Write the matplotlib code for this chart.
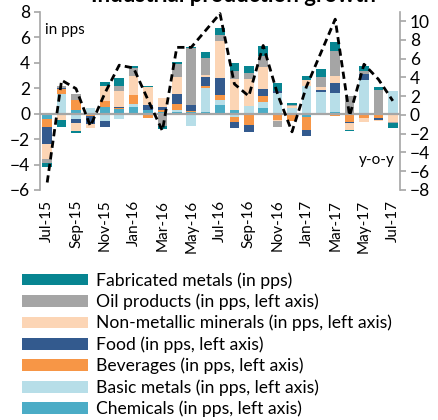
import numpy as np
import matplotlib
matplotlib.use('Agg')
import matplotlib.pyplot as plt
from matplotlib.patches import Patch

plt.rcParams['font.family'] = ['Lato', 'DejaVu Sans']

# --- data ---
months = ['Jul-15', 'Aug-15', 'Sep-15', 'Oct-15', 'Nov-15', 'Dec-15', 'Jan-16', 'Feb-16', 'Mar-16',
          'Apr-16', 'May-16', 'Jun-16', 'Jul-16', 'Aug-16', 'Sep-16', 'Oct-16', 'Nov-16', 'Dec-16',
          'Jan-17', 'Feb-17', 'Mar-17', 'Apr-17', 'May-17', 'Jun-17', 'Jul-17']

chemicals = [-0.4, 0, 0.26, -0.15, 0.5, 0.35, 0.52, 0.25, 0.13, 0.12, 0.1, 0.12, 0.7,
             0.25, 0, 0.4, 0, 0, -0.3, 0, 0.15, 0, 0, 0, 0]
basic_metals = [0, 1.5, -0.45, 0.4, -0.55, -0.45, 0.26, 0, 0, 0.19, -0.97, 1.9, 0.34,
                -0.3, 0.62, 0.5, 1.6, 0.47, 2.2, 1.7, 1.5, 0, 2.65, 0, 1.8]
beverages = [-0.65, 0.4, 0.8, -0.05, 0.45, 0.05, 0.7, -0.35, 0.18, 0.42, 0.1, 0.14, 0.45,
             -0.35, -0.9, 0.5, -0.47, -0.62, -1.0, 0, -0.2, -0.65, -0.38, -0.37, 0]
food = [-1.35, 0.12, -0.3, -0.6, -0.5, 0.12, -0.15, 0.42, 0.17, 0.83, 0.47, 0.73, 1.3,
        -0.47, -0.52, 0.55, 0.18, 0, -0.45, 0.13, 0.75, -0.12, 0.42, -0.13, 0]
non_metallic = [-1.2, -0.5, -0.6, -0.3, 1.25, 1.25, 1.5, 1.38, 0.72, 1.28, 0, 0.17, 2.88,
                2.5, 2.1, 1.72, -0.1, 0.1, 0.4, 0.24, 0.55, -0.5, -0.3, -0.12, -0.65]
oil_products = [-0.25, 0.15, 0.47, 0, 0, 0.37, 0.57, 0, -0.97, 1.03, 4.45, 1.34, 0.52,
                0.6, 0.47, 0.85, -0.47, 0.1, 0, 0.8, 1.95, 1.4, 0.3, 1.85, -0.12]
fabricated = [-0.35, -0.55, -0.18, 0, 0.27, 0.63, 0.2, 0.1, -0.26, 0.18, 0.08, 0.42, 0.52,
              0.6, 0.58, 0.75, 0.62, 0.18, 0.35, 0.62, 0.7, -0.1, 0.35, 0.2, -0.38]

yoy = [-7.2, 3.7, 2.8, -1.2, 2.3, 5.3, 5.0, 1.6, -1.7, 7.2, 7.2, 9.0, 10.8,
       3.3, 2.0, 7.4, 2.2, -1.8, 3.0, 6.6, 10.2, -0.1, 5.4, 3.8, 1.5]

# stacking order bottom -> top (legend shows it reversed)
series = [
    ('Chemicals (in pps, left axis)', chemicals, '#4BACC6'),
    ('Basic metals (in pps, left axis)', basic_metals, '#B7DEE8'),
    ('Beverages (in pps, left axis)', beverages, '#F79646'),
    ('Food (in pps, left axis)', food, '#335A8E'),
    ('Non-metallic minerals (in pps, left axis)', non_metallic, '#FCD5B5'),
    ('Oil products (in pps, left axis)', oil_products, '#A5A5A5'),
    ('Fabricated metals (in pps)', fabricated, '#078591'),
]

axis_grey = '#A6A6A6'

fig = plt.figure(figsize=(4.38, 4.20), dpi=100)
ax = fig.add_axes([40 / 438, 1 - 190 / 420, 360 / 438, 178.3 / 420])
x = np.arange(len(months))

pos = np.zeros(len(months))
neg = np.zeros(len(months))
for name, vals, col in series:
    v = np.array(vals, dtype=float)
    bottom = np.where(v >= 0, pos, neg)
    ax.bar(x, v, width=0.66, bottom=bottom, color=col, linewidth=0)
    pos = pos + np.where(v >= 0, v, 0)
    neg = neg + np.where(v < 0, v, 0)

ax.axhline(0, color=axis_grey, linewidth=1.6, zorder=3)
ax.set_xlim(-0.5, len(months) - 0.5)
ax.set_ylim(-6, 8)
ax.set_yticks(range(-6, 9, 2))
ax.set_xticks(x[::2])
ax.set_xticklabels(months[::2], rotation=90)
ax.tick_params(axis='x', length=0, pad=7, labelsize=11)
ax.tick_params(axis='y', direction='out', length=4, color=axis_grey, width=1.2, labelsize=12.5, pad=3)
for s in ['top', 'bottom', 'right']:
    ax.spines[s].set_visible(False)
ax.spines['left'].set_color(axis_grey)
ax.spines['left'].set_linewidth(1.2)

ax2 = ax.twinx()
ax2.plot(x, yoy, color='black', linewidth=2.0, linestyle=(0, (2.6, 1.6)))
ax2.set_ylim(-8, 11)
ax2.set_yticks(range(-8, 11, 2))
ax2.tick_params(axis='y', direction='out', length=4, color=axis_grey, width=1.2, labelsize=12.5, pad=3)
for s in ['top', 'bottom', 'left']:
    ax2.spines[s].set_visible(False)
ax2.spines['right'].set_color(axis_grey)
ax2.spines['right'].set_linewidth(1.2)

ax.text(0.015, 0.9, 'in pps', transform=ax.transAxes, fontsize=11, va='center', ha='left')
ax2.text(0.985, 0.17, 'y-o-y', transform=ax.transAxes, fontsize=11, va='center', ha='right')

fig.text(233 / 438, 1 - 2.5 / 420, 'Industrial production growth', fontsize=16, fontweight='bold',
         ha='center', va='baseline')

handles = [Patch(facecolor=col, label=name) for name, vals, col in reversed(series)]
fig.legend(handles=handles, loc='upper left', bbox_to_anchor=(22 / 438, 1 - 272 / 420),
           frameon=False, fontsize=12.6, handlelength=3.8, handleheight=0.65,
           handletextpad=0.45, labelspacing=0.28, borderpad=0, borderaxespad=0)

fig.savefig('out.png', dpi=100)
